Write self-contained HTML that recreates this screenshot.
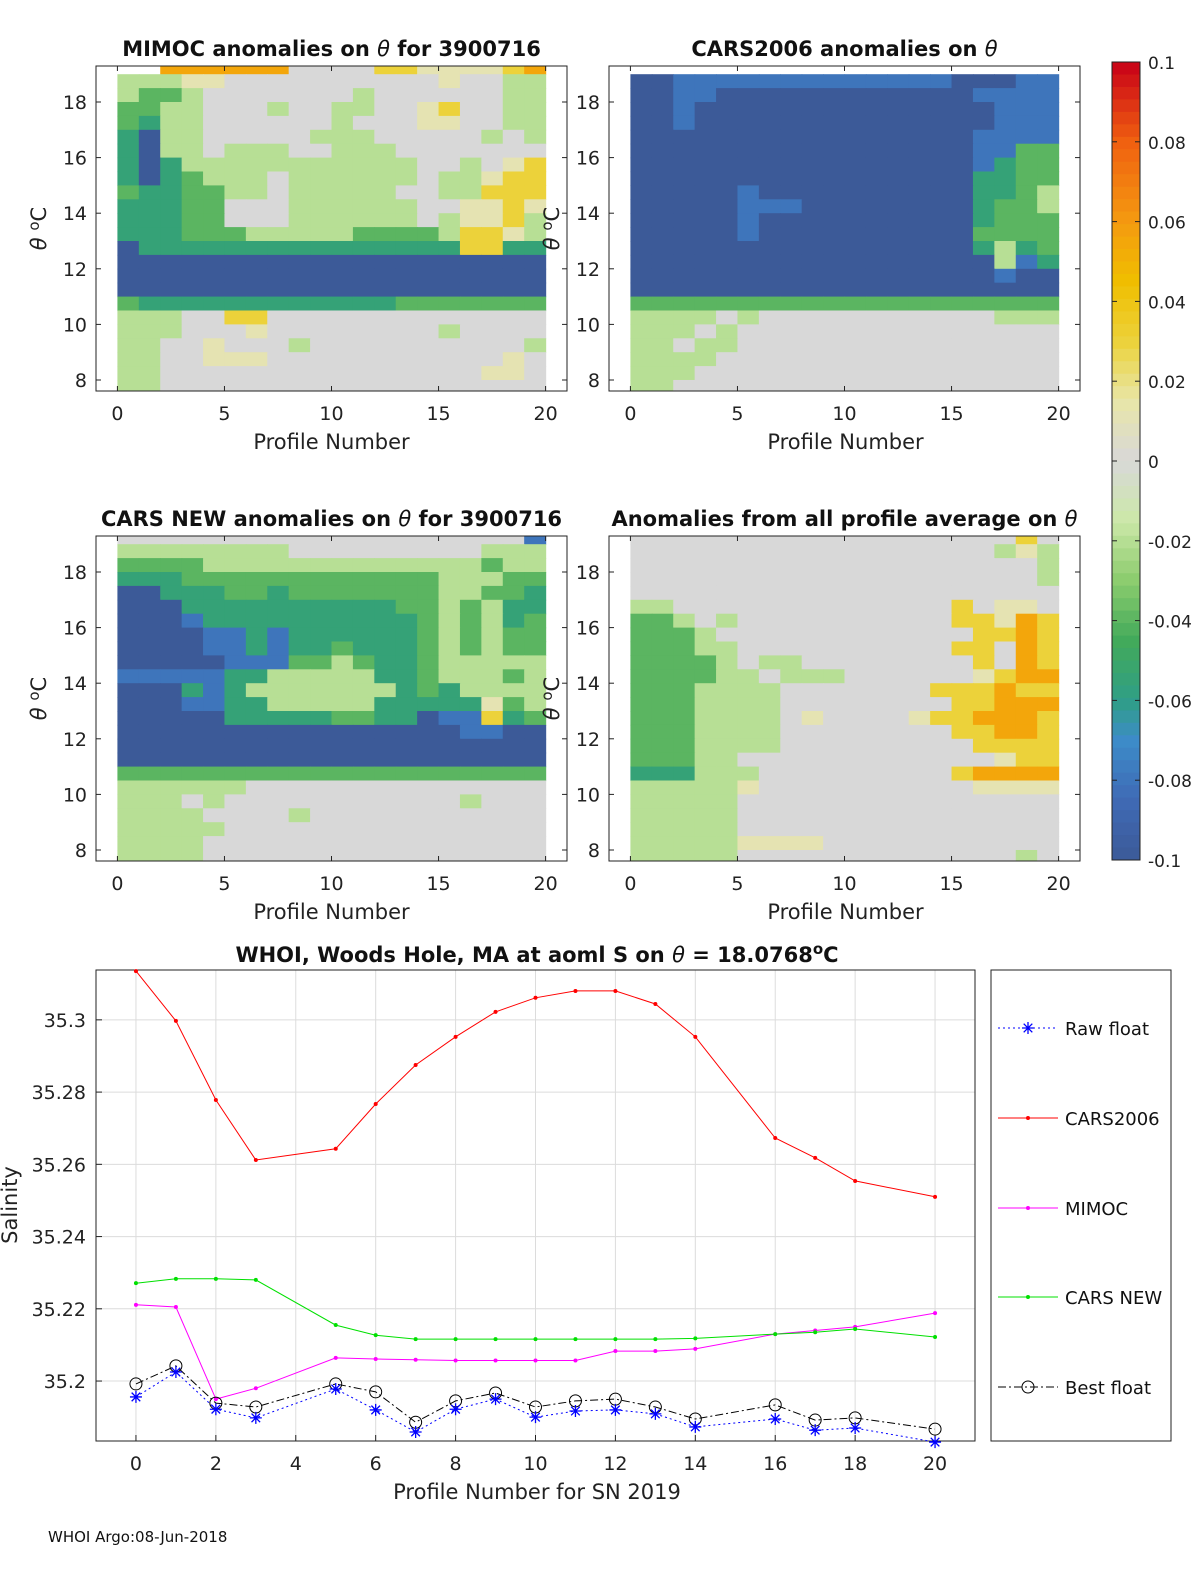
<!DOCTYPE html>
<html><head><meta charset="utf-8">
<style>
html,body{margin:0;padding:0;background:#fff;width:1200px;height:1575px;overflow:hidden}
svg{display:block;font-family:"DejaVu Sans","Liberation Sans",sans-serif}
</style></head>
<body>
<svg id="fig" width="1200" height="1575" viewBox="0 0 1200 1575" xmlns="http://www.w3.org/2000/svg"></svg>
<script>
// ---------- heatmap data (codes per 0.5°C row from 19.25 down to 7.75, 20 columns) ----------
const codeValues = {'.':null,'B':-0.1,'b':-0.08,'T':-0.055,'G':-0.04,'g':-0.02,'0':0,'y':0.012,'Y':0.03,'O':0.055,'R':0.075};
const rowCenters = [19.25,18.75,18.25,17.75,17.25,16.75,16.25,15.75,15.25,14.75,14.25,13.75,13.25,12.75,12.25,11.75,11.25,10.75,10.25,9.75,9.25,8.75,8.25,7.75];
const mimocRows = ["..OOOOOO0000YYyyyyYO","gggyy0000000000y00gg","gGGg0000000g000000gg","GGgg000g00gg00yY00gg","GTgg000000g000yy00gg","TBgg00000ggg00000g0g","TBgg0ggg00ggg0000000","TBTggggggggggg00g0yY","TBTGggg0gggggg0ggyYY","GTTGGgg0ggggg00ggYYY","TTTGG000gggggg00yyYy","TTTGG000gggggg0gyyYg","TTTGGGgggggGGGGgYYyg","BTTTTTTTTTTTTTTTYYTT","BBBBBBBBBBBBBBBBBBBB","BBBBBBBBBBBBBBBBBBBB","BBBBBBBBBBBBBBBBBBBB","GTTTTTTTTTTTTGGGGGGG","ggg00YY0000000000000","ggg000y00000000g0000","gg00y000g0000000000g","gg00yyy00000000000y0","gg000000000000000yy0","gg000000000000000000"];
const cars2006Rows = ["....................","BBbbbbbbbbbbbbbBBBbb","BBbbBBBBBBBBBBBBbbbb","BBbBBBBBBBBBBBBBBbbb","BBbBBBBBBBBBBBBBBbbb","BBBBBBBBBBBBBBBBbbbb","BBBBBBBBBBBBBBBBbbGG","BBBBBBBBBBBBBBBBbTGG","BBBBBBBBBBBBBBBBTTGG","BBBBBbBBBBBBBBBBTTGg","BBBBBbbbBBBBBBBBTGGg","BBBBBbBBBBBBBBBBTGGG","BBBBBbBBBBBBBBBBGGGG","BBBBBBBBBBBBBBBBTgTG","BBBBBBBBBBBBBBBBBgbT","BBBBBBBBBBBBBBBBBbBB","BBBBBBBBBBBBBBBBBBBB","GGGGGGGGGGGGGGGGGGGG","gggg0g00000000000ggg","ggg0g000000000000000","gg0gg000000000000000","gggg0000000000000000","ggg00000000000000000","gg000000000000000000"];
const carsNewRows = ["0000000000000000000b","gggggggg000000000ggg","GGGGgggggggggggggGgg","TTTGGGGGGGGGGGGgggGG","BBTTTGGTGGGGGGGggGGT","BBBTTTTTTTTTTGGgGgTT","BBBbTTTTTTTTTTGgGgTG","BBBBbbTbTTTTTTGgGgGG","BBBBbbTbTTGTTTGgGgGG","BBBBBbbbGGgGTTGggggg","bbbbbTTgggggTTGgggGg","BBBTbTgggggggTGTgggg","BBBbbTTgggggTTTTTyGg","BBBBBTTTTTGGTTBbbYTG","BBBBBBBBBBBBBBBBbbBB","BBBBBBBBBBBBBBBBBBBB","BBBBBBBBBBBBBBBBBBBB","GGGGGGGGGGGGGGGGGGGG","gggggg00000000000000","ggg0g00000000000g000","gggg0000g00000000000","ggggg000000000000000","gggg0000000000000000","gggg0000000000000000"];
const avgRows = ["000000000000000000Y0","00000000000000000gyg","0000000000000000000g","0000000000000000000g","00000000000000000000","gg0000000000000Y0yy0","GGg0g0000000000YYyOY","GGGg000000000000YYOY","GGGgg0000000000YY0OY","GGGGg0gg00000000Y0OY","GGGGgg0ggg000000yYOO","GGGgggg0000000YYYOYY","GGGgggg00000000YYOOO","GGGgggg0y0000yYYOOOY","GGGgggg00000000YYOOY","GGGgggg000000000YYYY","GGGgg000000000000yYY","TTTggg000000000YOOOO","gggggy0000000000yyyy","ggggg000000000000000","ggggg000000000000000","ggggg000000000000000","gggggyyyy00000000000","ggggg0000000000000g0"];
const panelTitles = ["MIMOC anomalies on θ  for 3900716","CARS2006 anomalies on θ","CARS NEW anomalies on θ for 3900716","Anomalies from all profile average on θ"];
const colorbarTicks = [0.1,0.08,0.06,0.04,0.02,0,-0.02,-0.04,-0.06,-0.08,-0.1];

// ---------- line chart data ----------
const profiles = [0,1,2,3,5,6,7,8,9,10,11,12,13,14,16,17,18,20];
const rawFloat = [35.1956,35.2025,35.1922,35.1898,35.1978,35.192,35.1859,35.1922,35.195,35.19,35.1917,35.192,35.1909,35.1873,35.1895,35.1864,35.187,35.1831];
const cars2006 = [35.3135,35.2997,35.2778,35.2612,35.2643,35.2767,35.2875,35.2953,35.3022,35.3061,35.308,35.308,35.3044,35.2953,35.2673,35.2618,35.2554,35.251];
const mimoc = [35.2211,35.2205,35.195,35.198,35.2064,35.2061,35.2059,35.2057,35.2057,35.2057,35.2057,35.2083,35.2083,35.2089,35.213,35.214,35.215,35.2188];
const carsNew = [35.2271,35.2283,35.2283,35.228,35.2155,35.2127,35.2116,35.2116,35.2116,35.2116,35.2116,35.2116,35.2116,35.2118,35.213,35.2135,35.2144,35.2122];
const bestFloat = [35.1992,35.2042,35.1939,35.1928,35.1992,35.197,35.1886,35.1945,35.1967,35.1928,35.1945,35.195,35.1928,35.1895,35.1934,35.1892,35.1898,35.1867];
const yTicks = [35.2,35.22,35.24,35.26,35.28,35.3];
const xTicks = [0,2,4,6,8,10,12,14,16,18,20];

const NS="http://www.w3.org/2000/svg";
const fig=document.getElementById('fig');
function mk(tag,attrs,parent,text){const e=document.createElementNS(NS,tag);for(const k in attrs)e.setAttribute(k,attrs[k]);if(text!==undefined)e.textContent=text;(parent||fig).appendChild(e);return e;}

const stops=[[-0.1,[60,90,152]],[-0.085,[63,106,181]],[-0.07,[61,140,200]],[-0.06,[47,158,134]],[-0.045,[66,170,90]],[-0.03,[140,204,110]],[-0.015,[204,232,168]],[0,[216,216,216]],[0.015,[232,230,168]],[0.03,[236,210,58]],[0.045,[240,190,0]],[0.06,[244,154,16]],[0.08,[240,96,16]],[0.1,[200,0,24]]];
function cmap(v){v=Math.max(-0.1,Math.min(0.1,v));for(let i=0;i<stops.length-1;i++){const a=stops[i],b=stops[i+1];if(v<=b[0]){const t=(v-a[0])/(b[0]-a[0]);const c=a[1].map((x,j)=>Math.round(x+(b[1][j]-x)*t));return `rgb(${c})`;}}return 'rgb(200,0,24)';}

const panels=[{x:96,y:66,rows:mimocRows,name:'mimoc'},{x:609,y:66,rows:cars2006Rows,name:'cars2006'},{x:96,y:536,rows:carsNewRows,name:'cars-new'},{x:609,y:536,rows:avgRows,name:'profile-average'}];
const PW=471,PH=325,YMAX=19.295,YMIN=7.604,XMIN=-1,XMAX=21;
panels.forEach((p,pi)=>{
  const g=mk('g',{},fig);
  
  
  const sx=v=>p.x+(v-XMIN)/(XMAX-XMIN)*PW;
  const sy=v=>p.y+(YMAX-v)/(YMAX-YMIN)*PH;
  const clipId='clip'+pi;
  const cp=mk('clipPath',{id:clipId},g);mk('rect',{x:p.x,y:p.y,width:PW,height:PH},cp);
  const cells=mk('g',{'clip-path':`url(#${clipId})`},g);
  p.rows.forEach((row,ri)=>{
    const c=rowCenters[ri];
    for(let ci=0;ci<row.length;ci++){
      const v=codeValues[row[ci]];if(v===null)continue;
      const r=mk('rect',{x:sx(ci).toFixed(2),y:sy(c+0.25).toFixed(2),width:(sx(ci+1)-sx(ci)+0.6).toFixed(2),height:(sy(c-0.25)-sy(c+0.25)+0.6).toFixed(2),fill:cmap(v)},cells);
      
      
    }
  });
  mk('rect',{x:p.x,y:p.y,width:PW,height:PH,fill:'none',stroke:'#222','stroke-width':1},g);
  [0,5,10,15,20].forEach(t=>{const X=sx(t);mk('line',{x1:X,x2:X,y1:p.y+PH,y2:p.y+PH-5,stroke:'#222'},g);mk('line',{x1:X,x2:X,y1:p.y,y2:p.y+5,stroke:'#222'},g);
    const tl=mk('text',{x:X,y:p.y+PH+29,'font-size':19,'text-anchor':'middle',fill:'#222'},g,String(t));});
  [8,10,12,14,16,18].forEach(t=>{const Y=sy(t);mk('line',{x1:p.x,x2:p.x+5,y1:Y,y2:Y,stroke:'#222'},g);mk('line',{x1:p.x+PW,x2:p.x+PW-5,y1:Y,y2:Y,stroke:'#222'},g);
    const tl=mk('text',{x:p.x-9,y:Y+7,'font-size':19,'text-anchor':'end',fill:'#222'},g,String(t));});
  const xl=mk('text',{x:p.x+PW/2+(pi%2?1:0),y:p.y+PH+58,'font-size':21,'text-anchor':'middle',fill:'#222'},g,'Profile Number');
  
  const yl=mk('text',{transform:`translate(${p.x-50},${p.y+PH/2}) rotate(-90)`,'font-size':21,'text-anchor':'middle',fill:'#222'},g);
  
  mk('tspan',{'font-style':'italic'},yl,'θ');mk('tspan',{},yl,' ');mk('tspan',{dy:-7,'font-size':15},yl,'o');mk('tspan',{dy:7},yl,'C');
  const tt=mk('text',{x:p.x+PW/2,y:p.y-10,'font-size':21,'font-weight':'bold','text-anchor':'middle',fill:'#111','xml:space':'preserve'},g);
  
  panelTitles[pi].split('θ').forEach((s,k,a)=>{mk('tspan',{},tt,s);if(k<a.length-1)mk('tspan',{'font-style':'italic','font-weight':'normal'},tt,'θ');});
});

// colorbar
(function(){
  const g=mk('g',{},fig);
  const x=1112,y0=62,y1=860,w=28;
  const n=64;
  for(let i=0;i<n;i++){const v=0.1-(i+0.5)*0.2/n;mk('rect',{x:x,y:(y0+i*(y1-y0)/n).toFixed(2),width:w,height:((y1-y0)/n+0.5).toFixed(2),fill:cmap(v)},g);}
  mk('rect',{x:x,y:y0,width:w,height:y1-y0,fill:'none',stroke:'#222'},g);
  colorbarTicks.forEach(t=>{const Y=y0+(0.1-t)/0.2*(y1-y0);mk('line',{x1:x+w,x2:x+w-5,y1:Y,y2:Y,stroke:'#222'},g);mk('line',{x1:x,x2:x+5,y1:Y,y2:Y,stroke:'#222'},g);
    const tl=mk('text',{x:x+36,y:Y+7,'font-size':17,fill:'#222'},g,String(t));});
})();

// line chart
(function(){
  const L=96,T=970,W=879,H=471;
  const X0=-1,X1=21,Y0=35.1834,Y1=35.3138;
  const sx=v=>L+(v-X0)/(X1-X0)*W, sy=v=>T+(Y1-v)/(Y1-Y0)*H;
  const g=mk('g',{},fig);
  mk('rect',{x:L,y:T,width:W,height:H,fill:'#fff'},g);
  xTicks.forEach(t=>{mk('line',{x1:sx(t),x2:sx(t),y1:T,y2:T+H,stroke:'#dcdcdc'},g);});
  yTicks.forEach(t=>{mk('line',{x1:L,x2:L+W,y1:sy(t),y2:sy(t),stroke:'#dcdcdc'},g);});
  mk('rect',{x:L,y:T,width:W,height:H,fill:'none',stroke:'#222'},g);
  xTicks.forEach(t=>{mk('line',{x1:sx(t),x2:sx(t),y1:T+H,y2:T+H-6,stroke:'#222'},g);
    const tl=mk('text',{x:sx(t),y:T+H+29,'font-size':19,'text-anchor':'middle',fill:'#222'},g,String(t));});
  yTicks.forEach(t=>{mk('line',{x1:L,x2:L+6,y1:sy(t),y2:sy(t),stroke:'#222'},g);
    const lab=(Math.round(t*100)/100).toString();
    const tl=mk('text',{x:L-10,y:sy(t)+7,'font-size':19,'text-anchor':'end',fill:'#222'},g,lab);});
  const series=[
    {d:cars2006,c:'#ff0000',dash:'',m:'dot',name:'cars2006-line'},
    {d:mimoc,c:'#ff00ff',dash:'',m:'dot',name:'mimoc-line'},
    {d:carsNew,c:'#00e000',dash:'',m:'dot',name:'cars-new-line'},
    {d:bestFloat,c:'#000',dash:'8 3 2 3',m:'circle',name:'best-float-line'},
    {d:rawFloat,c:'#0000ff',dash:'2 3',m:'star',name:'raw-float-line'}];
  function marker(m,X,Y,c,parent){
    if(m==='dot')mk('circle',{cx:X,cy:Y,r:2,fill:c},parent);
    else if(m==='circle')mk('circle',{cx:X,cy:Y,r:6,fill:'none',stroke:c,'stroke-width':1},parent);
    else{const s=6;mk('path',{d:`M${X-s} ${Y}H${X+s}M${X} ${Y-s}V${Y+s}M${X-4.3} ${Y-4.3}L${X+4.3} ${Y+4.3}M${X-4.3} ${Y+4.3}L${X+4.3} ${Y-4.3}`,stroke:c,'stroke-width':1.3},parent);}
  }
  series.forEach(s=>{
    const sg=mk('g',{},g);
    const pts=profiles.map((p,i)=>sx(p).toFixed(1)+','+sy(s.d[i]).toFixed(1)).join(' ');
    mk('polyline',{points:pts,fill:'none',stroke:s.c,'stroke-width':1,'stroke-dasharray':s.dash},sg);
    profiles.forEach((p,i)=>marker(s.m,sx(p),sy(s.d[i]),s.c,sg));
  });
  const tt=mk('text',{x:537,y:962,'font-size':21,'font-weight':'bold','text-anchor':'middle',fill:'#111'},g);
  
  mk('tspan',{},tt,'WHOI, Woods Hole, MA at aoml S on ');mk('tspan',{'font-style':'italic','font-weight':'normal'},tt,'θ');mk('tspan',{},tt,' = 18.0768');mk('tspan',{dy:-8,'font-size':15},tt,'o');mk('tspan',{dy:8},tt,'C');
  const xl=mk('text',{x:537,y:1499,'font-size':21,'text-anchor':'middle',fill:'#222'},g,'Profile Number for SN 2019');
  
  const yl=mk('text',{transform:'translate(17,1205) rotate(-90)','font-size':21,'text-anchor':'middle',fill:'#222'},g,'Salinity');
  
  // legend
  const lg=mk('g',{},fig);
  mk('rect',{x:991,y:970,width:180,height:471,fill:'#fff',stroke:'#222'},lg);
  const entries=[['Raw float','#0000ff','2 3','star',1028],['CARS2006','#ff0000','','dot',1118],['MIMOC','#ff00ff','','dot',1208],['CARS NEW','#00e000','','dot',1297],['Best float','#000','8 3 2 3','circle',1387]];
  entries.forEach(e=>{
    const eg=mk('g',{},lg);
    mk('line',{x1:998,x2:1058,y1:e[4],y2:e[4],stroke:e[1],'stroke-dasharray':e[2]},eg);
    marker(e[3],1028,e[4],e[1],eg);
    mk('text',{x:1065,y:e[4]+7,'font-size':18,fill:'#111'},eg,e[0]);
  });
})();
const ft=mk('text',{x:48,y:1542,'font-size':15,fill:'#111'},fig,'WHOI Argo:08-Jun-2018');


</script>
</body></html>
